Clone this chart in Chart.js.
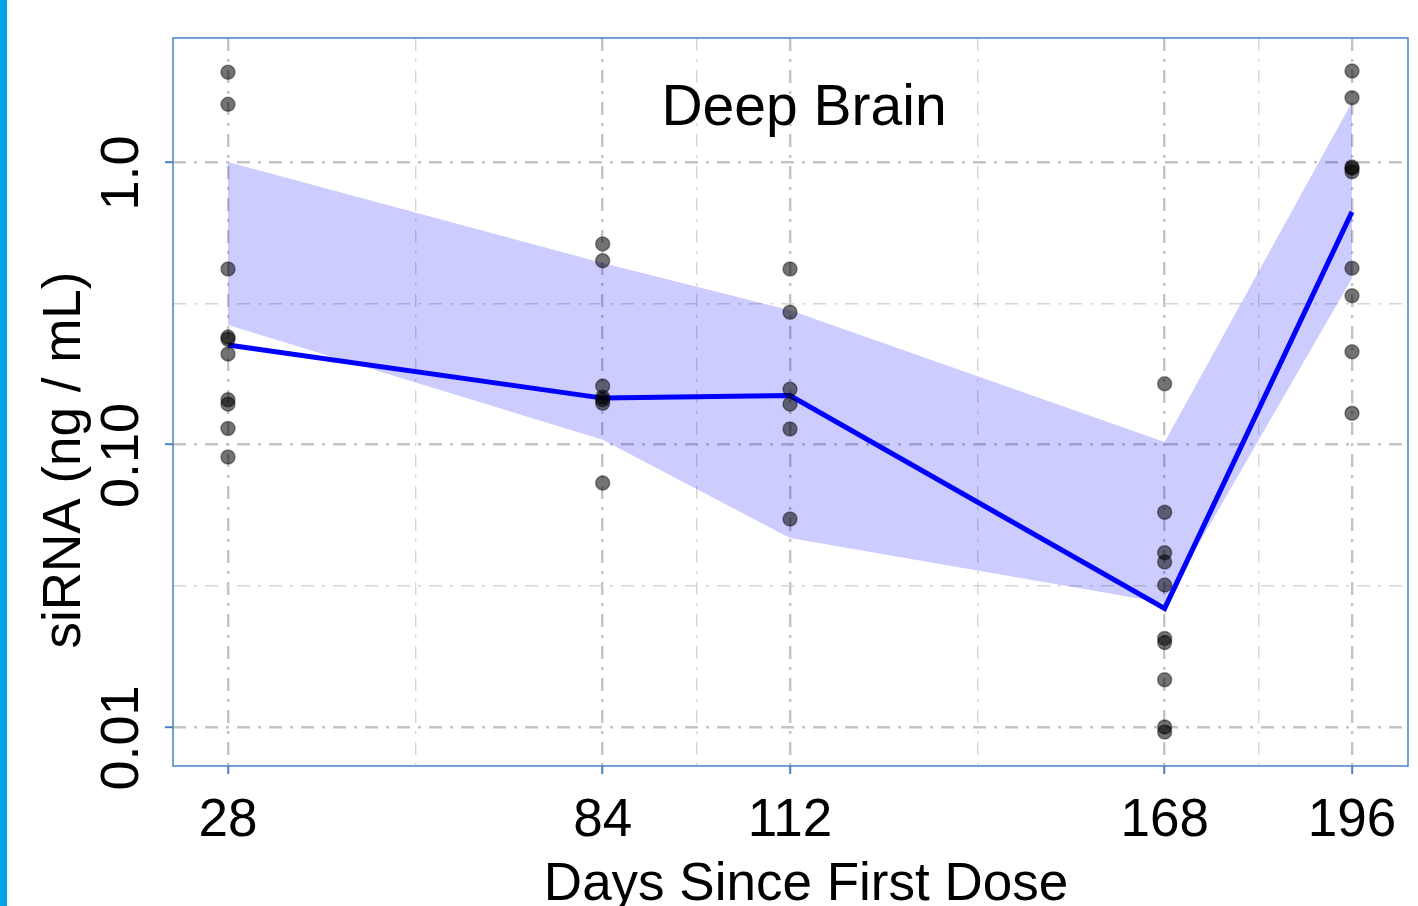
<!DOCTYPE html>
<html>
<head>
<meta charset="utf-8">
<script src="https://cdn.jsdelivr.net/npm/chart.js@4"></script>
<style>
  body { margin: 0; background: #fff; }
  #wrap { width: 1418px; height: 906px; position: relative; }
</style>
</head>
<body>
<div id="wrap"><canvas id="chart"></canvas></div>
<script>
// nominal sampling days
const days = [28, 84, 112, 168, 196];

// mean curve and shaded interval
const meanLine = [0.225, 0.146, 0.149, 0.0263, 0.666];
const bandUpper = [1.0, 0.439, 0.299, 0.102, 1.63];
const bandLower = [0.265, 0.104, 0.0467, 0.0275, 0.388];

// individual observations per day
const obs28 = [2.08, 1.60, 0.418, 0.240, 0.236, 0.209, 0.144, 0.139, 0.114, 0.0903];
const obs84 = [0.513, 0.447, 0.161, 0.147, 0.144, 0.140, 0.0731];
const obs112 = [0.418, 0.294, 0.157, 0.139, 0.1135, 0.0545];
const obs168 = [0.164, 0.0576, 0.0414, 0.0384, 0.0318, 0.0206, 0.0199, 0.0147, 0.0100, 0.0096];
const obs196 = [2.10, 1.69, 0.96, 0.95, 0.924, 0.421, 0.336, 0.213, 0.129];

// axis ticks (major get labels, minor only grid)
const xMajor = [28, 84, 112, 168, 196];
const xMinor = [56, 98, 140, 182];
const yMajor = [0.01, 0.1, 1.0];
const yMinor = [0.0316, 0.316];
const yLabels = ['0.01', '0.10', '1.0'];

const FONT = '"Liberation Sans", Arial, Helvetica, sans-serif';

function toXY(xs, ys) {
  return xs.map((x, i) => ({x: x, y: ys[i]}));
}

const obsByDay = [obs28, obs84, obs112, obs168, obs196];
let points = [];
obsByDay.forEach((vals, i) => {
  vals.forEach(v => points.push({x: days[i], y: v}));
});

function isMajor(list, v) {
  return list.some(m => Math.abs(m - v) < 1e-6);
}

const gridDash = [13, 8, 3, 8];

const decor = {
  id: 'decor',
  beforeDraw(chart) {
    const ctx = chart.ctx;
    ctx.save();
    ctx.fillStyle = '#ffffff';
    ctx.fillRect(0, 0, chart.width, chart.height);
    ctx.fillStyle = '#03a1e8';
    ctx.fillRect(0, 0, 7, chart.height);
    ctx.restore();
  },
  afterDraw(chart) {
    const ctx = chart.ctx;
    const a = chart.chartArea;
    ctx.save();
    ctx.strokeStyle = '#4a80c8';
    ctx.lineWidth = 1.5;
    ctx.strokeRect(a.left, a.top, a.right - a.left, a.bottom - a.top);

    ctx.fillStyle = '#000';
    ctx.textAlign = 'center';
    ctx.textBaseline = 'alphabetic';
    ctx.font = '57px ' + FONT;
    ctx.fillText('Deep Brain', 804, 125);

    ctx.font = '53px ' + FONT;
    ctx.fillText('Days Since First Dose', 806, 900);

    ctx.save();
    ctx.translate(65, 460);
    ctx.rotate(-Math.PI / 2);
    ctx.textBaseline = 'middle';
    ctx.fillText('siRNA (ng / mL)', 0, 0);
    ctx.restore();

    // rotated y tick labels, sitting a little below their ticks as in the original
    ctx.font = '54px ' + FONT;
    const ys = chart.scales.y;
    yMajor.forEach((v, i) => {
      const py = ys.getPixelForValue(v) + 11;
      ctx.save();
      ctx.translate(123, py);
      ctx.rotate(-Math.PI / 2);
      ctx.textBaseline = 'middle';
      ctx.fillText(yLabels[i], 0, 0);
      ctx.restore();
    });
    ctx.restore();
  }
};

const ctx = document.getElementById('chart');

new Chart(ctx, {
  type: 'scatter',
  data: {
    datasets: [
      {
        label: 'observed',
        data: points,
        order: 0,
        pointRadius: 7,
        pointHoverRadius: 7,
        backgroundColor: 'rgba(0,0,0,0.55)',
        borderColor: 'rgba(0,0,0,0.4)',
        borderWidth: 1.5
      },
      {
        label: 'mean',
        type: 'line',
        data: toXY(days, meanLine),
        order: 1,
        borderColor: '#0000ff',
        borderWidth: 5,
        pointRadius: 0,
        fill: false,
        tension: 0
      },
      {
        label: 'lower',
        type: 'line',
        data: toXY(days, bandLower),
        order: 3,
        borderWidth: 0,
        borderColor: 'rgba(0,0,0,0)',
        pointRadius: 0,
        fill: false
      },
      {
        label: 'upper',
        type: 'line',
        data: toXY(days, bandUpper),
        order: 2,
        borderWidth: 0,
        borderColor: 'rgba(0,0,0,0)',
        pointRadius: 0,
        backgroundColor: 'rgba(0,0,255,0.2)',
        fill: 2
      }
    ]
  },
  options: {
    responsive: true,
    maintainAspectRatio: false,
    animation: false,
    events: [],
    layout: { padding: { top: 38, right: 10, left: 0, bottom: 0 } },
    plugins: {
      legend: { display: false },
      tooltip: { enabled: false },
      title: { display: false }
    },
    scales: {
      x: {
        type: 'linear',
        min: 19.78,
        max: 204.37,
        afterBuildTicks: s => {
          s.ticks = xMajor.concat(xMinor).sort((p, q) => p - q).map(v => ({value: v}));
        },
        afterFit: s => { s.height = 140; },
        ticks: {
          autoSkip: false,
          maxRotation: 0,
          padding: 16,
          color: '#000',
          font: { family: FONT, size: 53 },
          callback: v => isMajor(xMajor, v) ? String(v) : ''
        },
        grid: {
          color: c => isMajor(xMajor, c.tick.value) ? '#c4c4c4' : '#d6d6d6',
          lineWidth: c => isMajor(xMajor, c.tick.value) ? 2.4 : 1.4,
          tickLength: 8,
          tickWidth: 2,
          tickColor: c => isMajor(xMajor, c.tick.value) ? '#4a80c8' : 'rgba(0,0,0,0)'
        },
        border: { display: false, dash: gridDash }
      },
      y: {
        type: 'logarithmic',
        min: 0.00728,
        max: 2.748,
        afterBuildTicks: s => {
          s.ticks = yMajor.concat(yMinor).sort((p, q) => p - q).map(v => ({value: v}));
        },
        afterFit: s => { s.width = 173; },
        ticks: { display: false },
        grid: {
          color: c => isMajor(yMajor, c.tick.value) ? '#c4c4c4' : '#d6d6d6',
          lineWidth: c => isMajor(yMajor, c.tick.value) ? 2.4 : 1.4,
          tickLength: 8,
          tickWidth: 2,
          tickColor: c => isMajor(yMajor, c.tick.value) ? '#4a80c8' : 'rgba(0,0,0,0)'
        },
        border: { display: false, dash: gridDash }
      }
    }
  },
  plugins: [decor]
});
</script>
</body>
</html>
